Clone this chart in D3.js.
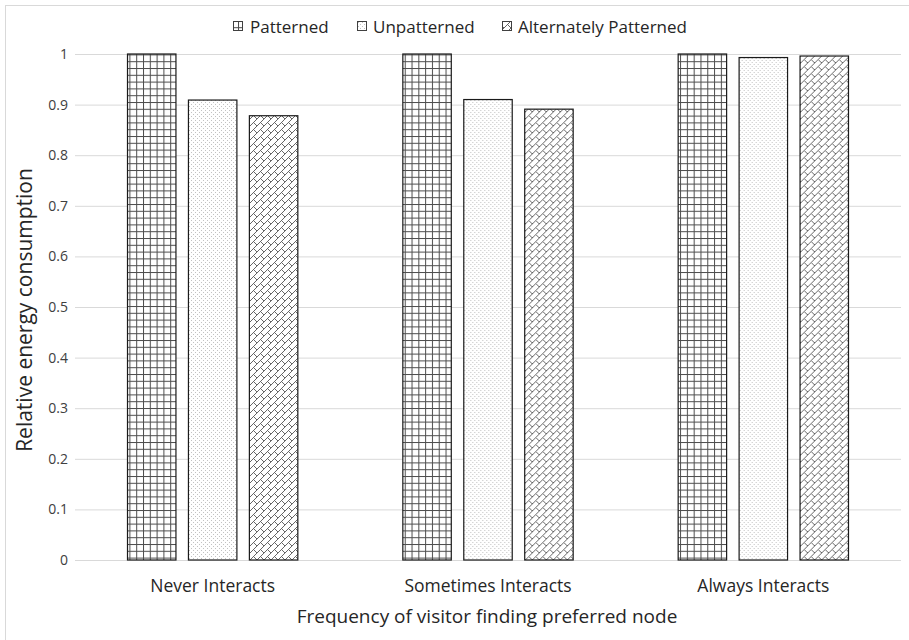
<!DOCTYPE html>
<html>
<head>
<meta charset="utf-8">
<script src="https://cdn.jsdelivr.net/npm/d3@7"></script>
<style>
  html, body { margin: 0; padding: 0; background: #fff; }
  svg { display: block; font-family: "Open Sans", "Noto Sans", sans-serif; }
</style>
</head>
<body>
<svg id="chart" width="909" height="640"></svg>
<script>
// ---- data ----
const categories = ["Never Interacts", "Sometimes Interacts", "Always Interacts"];
const seriesNames = ["Patterned", "Unpatterned", "Alternately Patterned"];
const patternedValues = [1.0, 1.0, 1.0];
const unpatternedValues = [0.909, 0.910, 0.993];
const alternatelyValues = [0.878, 0.891, 0.996];
const yTickValues = [0, 0.1, 0.2, 0.3, 0.4, 0.5, 0.6, 0.7, 0.8, 0.9, 1];
const xTitle = "Frequency of visitor finding preferred node";
const yTitle = "Relative energy consumption";

const seriesValues = [patternedValues, unpatternedValues, alternatelyValues];
const patternIds = ["pat-grid", "pat-dots", "pat-brick"];

const svg = d3.select("#chart");
const plot = { left: 75, right: 901, top: 54, bottom: 560 };

// ---- patterns ----
const defs = svg.append("defs");
const pg = defs.append("pattern").attr("id", "pat-grid")
  .attr("patternUnits", "userSpaceOnUse").attr("width", 6.8).attr("height", 6.8);
pg.append("rect").attr("width", 6.8).attr("height", 6.8).attr("fill", "#fff");
pg.append("rect").attr("x", 0).attr("y", 0).attr("width", 6.8).attr("height", 1).attr("fill", "#4d4d4d");
pg.append("rect").attr("x", 0).attr("y", 0).attr("width", 1).attr("height", 6.8).attr("fill", "#4d4d4d");

const pd = defs.append("pattern").attr("id", "pat-dots")
  .attr("patternUnits", "userSpaceOnUse").attr("width", 4).attr("height", 4);
pd.append("rect").attr("width", 4).attr("height", 4).attr("fill", "#fff");
pd.append("rect").attr("x", 0).attr("y", 0).attr("width", 1).attr("height", 1).attr("fill", "#c2c2c2");
pd.append("rect").attr("x", 2).attr("y", 2).attr("width", 1).attr("height", 1).attr("fill", "#c2c2c2");

const pb = defs.append("pattern").attr("id", "pat-brick")
  .attr("patternUnits", "userSpaceOnUse").attr("width", 7).attr("height", 7);
pb.append("rect").attr("width", 7).attr("height", 7).attr("fill", "#fff");
pb.append("path").attr("d", "M-1,8 L8,-1 M3.5,3.5 L7,7")
  .attr("stroke", "#666").attr("stroke-width", 1).attr("fill", "none");

// ---- chart border ----
svg.append("rect").attr("x", 5.5).attr("y", 5.5).attr("width", 930).attr("height", 660)
  .attr("fill", "none").attr("stroke", "#d9d9d9").attr("stroke-width", 1);

// ---- scales ----
const x0 = d3.scaleBand().domain(categories).range([plot.left, plot.right]).paddingInner(0).paddingOuter(0);
const groupPad = 52.5;
const x1 = d3.scaleBand().domain(seriesNames)
  .range([groupPad, x0.bandwidth() - groupPad]).paddingInner(0.205).paddingOuter(0);
const y = d3.scaleLinear().domain([0, 1]).range([plot.bottom, plot.top]);

// ---- gridlines + y tick labels ----
const yAxis = d3.axisLeft(y).tickValues(yTickValues)
  .tickSize(-(plot.right - plot.left)).tickPadding(7)
  .tickFormat(d => d3.format("~g")(d));
const gy = svg.append("g").attr("transform", `translate(${plot.left},0)`).call(yAxis);
gy.select(".domain").remove();
gy.selectAll(".tick line").attr("stroke", "#d9d9d9").attr("stroke-width", 1);
gy.selectAll(".tick text").attr("fill", "#404040").attr("font-size", 14)
  .attr("font-family", "'Open Sans', sans-serif");

// ---- bars ----
const groups = svg.append("g").selectAll("g").data(categories).join("g")
  .attr("transform", d => `translate(${x0(d)},0)`);
groups.selectAll("rect")
  .data((c, ci) => seriesNames.map((s, si) => ({ s, si, v: seriesValues[si][ci] })))
  .join("rect")
  .attr("x", d => x1(d.s))
  .attr("y", d => y(d.v))
  .attr("width", x1.bandwidth())
  .attr("height", d => y(0) - y(d.v))
  .attr("fill", d => `url(#${patternIds[d.si]})`)
  .attr("stroke", "#1a1a1a").attr("stroke-width", 1.2);

// ---- x axis labels ----
const xAxis = d3.axisBottom(x0).tickSize(0).tickPadding(20);
const gx = svg.append("g").attr("transform", `translate(0,${plot.bottom})`).call(xAxis);
gx.select(".domain").remove();
gx.selectAll(".tick text").attr("fill", "#262626").attr("font-size", 17.5)
  .attr("font-family", "'Open Sans', sans-serif");

// ---- axis titles ----
svg.append("text").attr("x", (plot.left + plot.right) / 2 - 1).attr("y", 623)
  .attr("text-anchor", "middle").attr("font-size", 19).attr("fill", "#262626")
  .text(xTitle);
svg.append("text")
  .attr("transform", `translate(32,${(plot.top + plot.bottom) / 2 + 3}) rotate(-90)`)
  .attr("text-anchor", "middle").attr("font-size", 21).attr("fill", "#262626")
  .text(yTitle);

// ---- legend ----
const legendItems = [
  { name: seriesNames[0], sx: 233, tx: 250 },
  { name: seriesNames[1], sx: 357, tx: 373 },
  { name: seriesNames[2], sx: 502, tx: 518 }
];
const lg = svg.append("g");
legendItems.forEach((it, i) => {
  lg.append("rect").attr("x", it.sx + 0.5).attr("y", 21.5).attr("width", 9).attr("height", 9)
    .attr("fill", `url(#${patternIds[i]})`).attr("stroke", "#404040").attr("stroke-width", 1);
  lg.append("text").attr("x", it.tx).attr("y", 33).attr("font-size", 17).attr("fill", "#262626")
    .text(it.name);
});
</script>
</body>
</html>
